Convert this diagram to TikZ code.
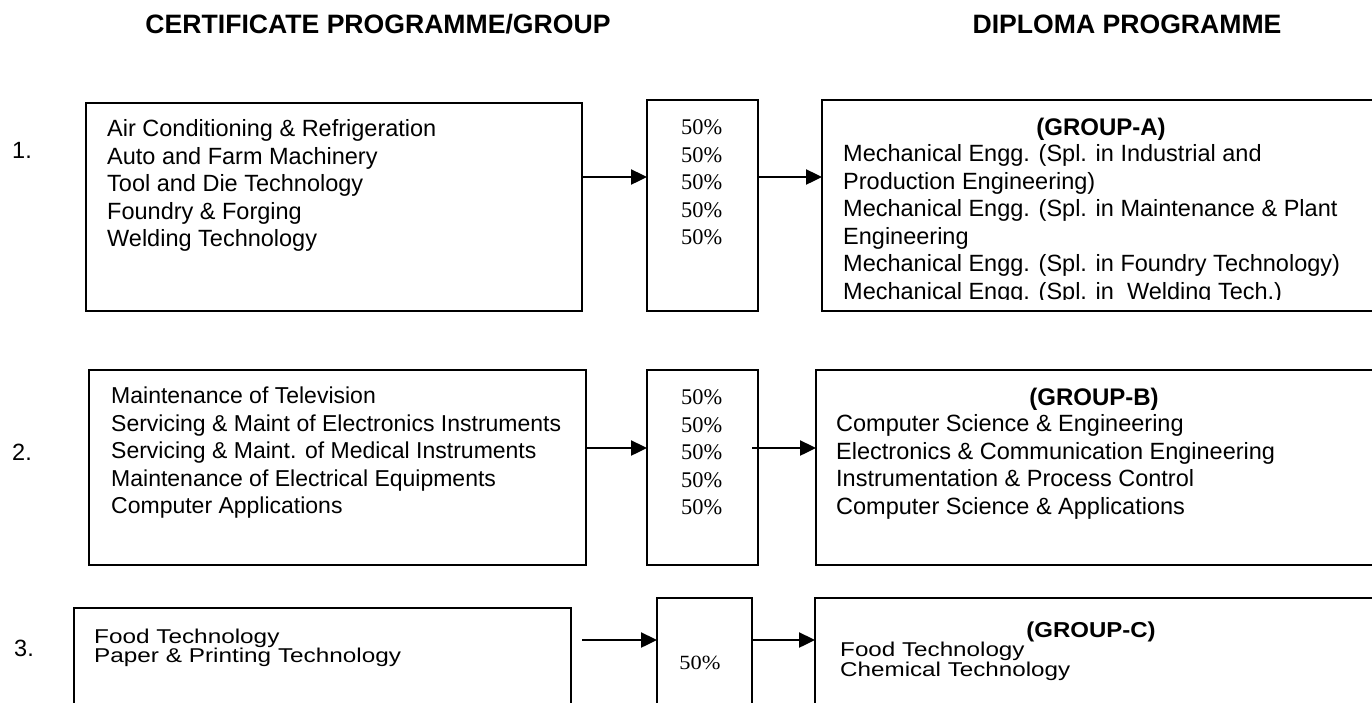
\documentclass[tikz,border=0pt]{standalone}
\usepackage{fontspec}
\usepackage{graphicx}
\setmainfont{Liberation Sans}
\newfontfamily\pctfont{Liberation Serif}
\usetikzlibrary{arrows.meta}
\tikzset{
  box/.style={draw, line width=1.4pt, inner sep=0pt, outer sep=0pt},
  arr/.style={line width=2.4pt, -{Triangle[length=16pt,width=15pt]}},
  txt/.style={inner sep=0pt, anchor=base west, font=\fontsize{23.5}{27.6}\selectfont},
  ttl/.style={inner sep=0pt, anchor=base, font=\fontsize{26.6}{30}\selectfont\bfseries},
  hdr/.style={inner sep=0pt, anchor=base, font=\fontsize{24}{28}\selectfont\bfseries},
  pct/.style={inner sep=0pt, anchor=base west, font=\fontsize{22.4}{27.6}\selectfont\pctfont},
}
\begin{document}
\begin{tikzpicture}[x=1pt,y=-1pt]
\useasboundingbox (0,0) rectangle (1372,702);
\clip (0,0) rectangle (1372,702);
% titles
\node[ttl] (t1) at (378,33.5) {CERTIFICATE PROGRAMME/GROUP};
\node[ttl] (t2) at (1127,33.5) {DIPLOMA PROGRAMME};
% row numbers
\node[txt] (n1) at (12,158.5) {1.};
\node[txt] (n2) at (12,460.5) {2.};
\node[txt] (n3) at (14,656) {3.};
% boxes
\node[box, minimum width=496pt, minimum height=208pt] (box1) at (334,207) {};
\node[box, minimum width=111pt, minimum height=211pt] (pct1) at (702.5,205.5) {};
\node[box, minimum width=558pt, minimum height=211pt] (grpA) at (1101,205.5) {};
\node[box, minimum width=497pt, minimum height=195pt] (box2) at (337.5,467.5) {};
\node[box, minimum width=111pt, minimum height=195pt] (pct2) at (702.5,467.5) {};
\node[box, minimum width=564pt, minimum height=195pt] (grpB) at (1098,467.5) {};
\node[box, minimum width=497pt, minimum height=104pt] (box3) at (322.5,660) {};
\node[box, minimum width=95pt, minimum height=114pt] (pct3) at (704.5,655) {};
\node[box, minimum width=565pt, minimum height=114pt] (grpC) at (1097.5,655) {};
% arrows
\coordinate (r1) at (0,177);
\coordinate (r2) at (0,448);
\coordinate (r3) at (0,640);
\draw[arr] (box1.east |- r1) -- (pct1.west |- r1);
\draw[arr] (pct1.east |- r1) -- (grpA.west |- r1);
\draw[arr] (box2.east |- r2) -- (pct2.west |- r2);
\draw[arr, shorten <=-6pt] (pct2.east |- r2) -- (grpB.west |- r2);
\draw[arr, shorten <=11pt] (box3.east |- r3) -- (pct3.west |- r3);
\draw[arr] (pct3.east |- r3) -- (grpC.west |- r3);
% row 1 texts
\node[txt] (b1t) at (107,136.5) {\begin{tabular}[t]{@{}l@{}}Air Conditioning \& Refrigeration\\ Auto and Farm Machinery\\ Tool and Die Technology\\ Foundry \& Forging\\ Welding Technology\end{tabular}};
\node[pct] (p1t) at (681,134.5) {\begin{tabular}[t]{@{}l@{}}50\%\\ 50\%\\ 50\%\\ 50\%\\ 50\%\end{tabular}};
\node[hdr] (gAh) at (1101,135.5) {(GROUP-A)};
\begin{scope}
\clip (822,100) rectangle (1380,299.5);
\node[txt] (gAt) at (843,161.5) {\begin{tabular}[t]{@{}l@{}}Mechanical Engg. (Spl. in Industrial and\\ Production Engineering)\\ Mechanical Engg. (Spl. in Maintenance \& Plant\\ Engineering\\ Mechanical Engg. (Spl. in Foundry Technology)\\ Mechanical Engg. (Spl. in~ Welding Tech.)\end{tabular}};
\end{scope}
% row 2 texts
\node[txt, font=\fontsize{23}{27.6}\selectfont] (b2t) at (111,403.5) {\begin{tabular}[t]{@{}l@{}}Maintenance of Television\\ Servicing \& Maint of Electronics Instruments\\ Servicing \& Maint. of Medical Instruments\\ Maintenance of Electrical Equipments\\ Computer Applications\end{tabular}};
\node[pct] (p2t) at (681,404.5) {\begin{tabular}[t]{@{}l@{}}50\%\\ 50\%\\ 50\%\\ 50\%\\ 50\%\end{tabular}};
\node[hdr] (gBh) at (1094,405.5) {(GROUP-B)};
\node[txt] (gBt) at (836,431.5) {\begin{tabular}[t]{@{}l@{}}Computer Science \& Engineering\\ Electronics \& Communication Engineering\\ Instrumentation \& Process Control\\ Computer Science \& Applications\end{tabular}};
% row 3 texts
\node[txt] (b3t) at (94,643) {\scalebox{1.035}[0.85]{\begin{tabular}[t]{@{}l@{}}Food Technology\\[-4.1pt] Paper \& Printing Technology\end{tabular}}};
\node[pct, anchor=base] (p3t) at (700,669) {\scalebox{1}[0.9]{50\%}};
\node[hdr] (gCh) at (1091,637) {\scalebox{1}[0.9]{(GROUP-C)}};
\node[txt] (gCt) at (840,656.5) {\scalebox{1.03}[0.85]{\begin{tabular}[t]{@{}l@{}}Food Technology\\[-4.1pt] Chemical Technology\end{tabular}}};
\end{tikzpicture}
\end{document}
